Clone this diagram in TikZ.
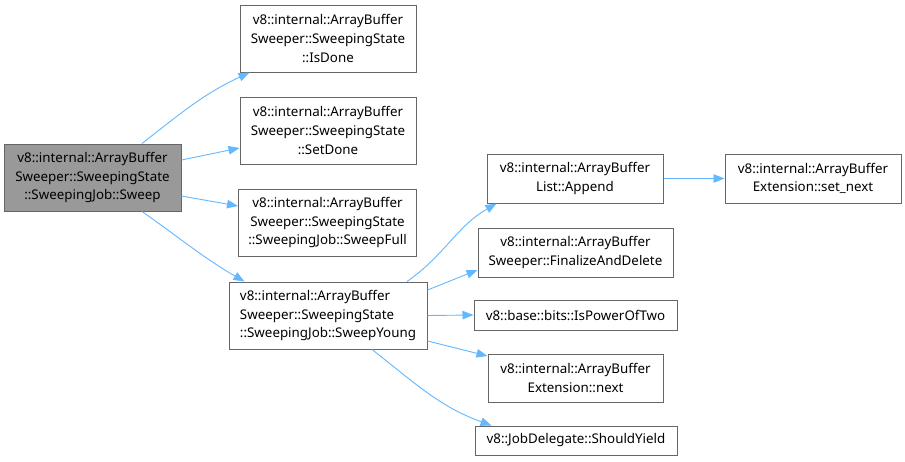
\documentclass[tikz,border=0pt]{standalone}
\usepackage{fontspec}
\setmainfont{Noto Sans}
\usetikzlibrary{arrows.meta}
\definecolor{edgec}{HTML}{63B8FF}
\definecolor{boxc}{HTML}{666666}
\definecolor{rootc}{HTML}{999999}
\tikzset{
  fn/.style={draw=boxc, line width=1pt, fill=white, align=center, inner sep=0pt,
    font=\fontsize{13.35}{18.7}\selectfont, text=black},
  rootfn/.style={fn, fill=rootc},
  call/.style={draw=edgec, line width=0.9pt, -{Triangle[length=11pt,width=8.5pt]}, fill=none},
}
\begin{document}
\begin{tikzpicture}[x=1pt,y=-1pt]
\useasboundingbox (0,0) rectangle (905,461);
\fill[white] (0,0) rectangle (905,461);
\node[rootfn, minimum width=177pt, minimum height=67pt] (sweep) at (92.5,177.5)
  {v8::internal::ArrayBuffer\\Sweeper::SweepingState\\::SweepingJob::Sweep};
\node[fn, minimum width=176pt, minimum height=67pt] (isdone) at (328,38.5)
  {v8::internal::ArrayBuffer\\Sweeper::SweepingState\\::IsDone};
\node[fn, minimum width=176pt, minimum height=67pt] (setdone) at (328,130.5)
  {v8::internal::ArrayBuffer\\Sweeper::SweepingState\\::SetDone};
\node[fn, minimum width=178pt, minimum height=67pt] (full) at (327.5,222.5)
  {v8::internal::ArrayBuffer\\Sweeper::SweepingState\\::SweepingJob::SweepFull};
\node[fn, minimum width=198pt, minimum height=67pt, align=left] (young) at (328,315.5)
  {v8::internal::ArrayBuffer\\Sweeper::SweepingState\\::SweepingJob::SweepYoung};
\node[fn, minimum width=176pt, minimum height=49pt] (append) at (575,178.5)
  {v8::internal::ArrayBuffer\\List::Append};
\node[fn, minimum width=176pt, minimum height=49pt] (setnext) at (813,178.5)
  {v8::internal::ArrayBuffer\\Extension::set\_next};
\node[fn, minimum width=195pt, minimum height=49pt] (finalize) at (575.5,252.5)
  {v8::internal::ArrayBuffer\\Sweeper::FinalizeAndDelete};
\node[fn, minimum width=203pt, minimum height=30pt] (pow) at (575.5,315)
  {v8::base::bits::IsPowerOfTwo};
\node[fn, minimum width=175pt, minimum height=48pt] (next) at (575.5,378)
  {v8::internal::ArrayBuffer\\Extension::next};
\node[fn, minimum width=202pt, minimum height=29pt] (yield) at (576,440.5)
  {v8::JobDelegate::ShouldYield};

\draw[call] ([xshift=49.5pt]sweep.north) to[out=38,in=205] ([xshift=10pt]isdone.south west);
\draw[call] ([yshift=17.5pt]sweep.east) -- ([yshift=-17.5pt]setdone.west);
\draw[call] ([yshift=-18.5pt]sweep.east) -- ([yshift=16.5pt]full.west);
\draw[call] ([xshift=49.5pt]sweep.south) to[out=-35,in=150] ([xshift=16pt]young.north west);
\draw[call] ([xshift=79pt]young.north) to[out=35,in=210] ([xshift=10pt]append.south west);
\draw[call] ([yshift=25.5pt]young.east) -- ([yshift=-17.5pt]finalize.west);
\draw[call] (young.east) -- (pow.west);
\draw[call] ([yshift=-25.5pt]young.east) -- ([yshift=22pt]next.west);
\draw[call] ([xshift=44pt]young.south) to[out=-38,in=160] ([xshift=17pt]yield.north west);
\draw[call] (append.east) -- (setnext.west);
\end{tikzpicture}
\end{document}
